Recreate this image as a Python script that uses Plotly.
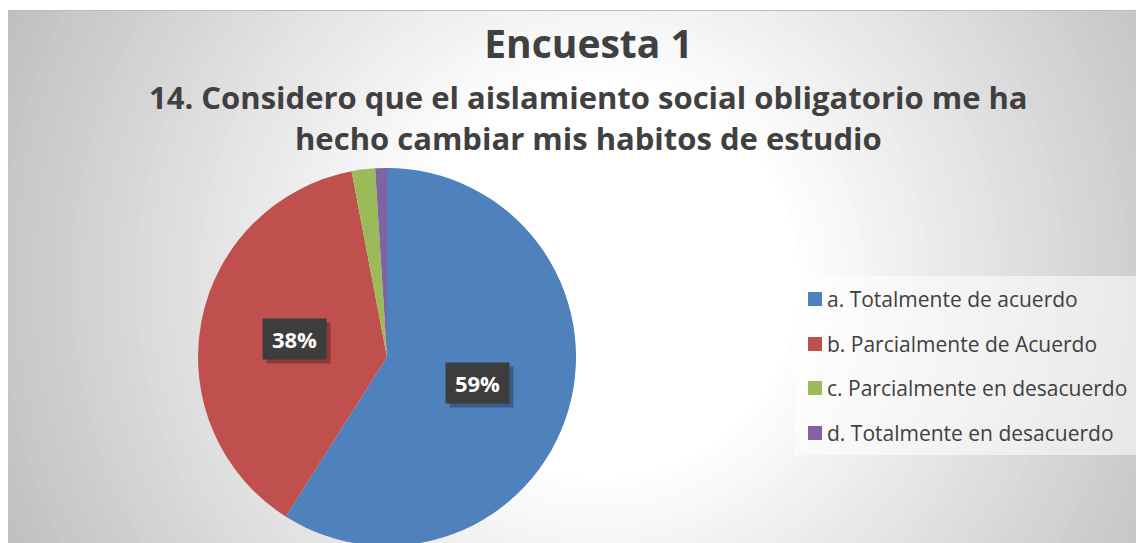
import math
import plotly.graph_objects as go

# ---- data ----
categories = [
    "a. Totalmente de acuerdo",
    "b. Parcialmente de Acuerdo",
    "c. Parcialmente en desacuerdo",
    "d. Totalmente en desacuerdo",
]
values = [59, 38, 2, 1]
colors = ["#4F81BD", "#C0504D", "#9BBB59", "#8064A2"]
title_text = "Encuesta 1"
subtitle_lines = [
    "14. Considero que el aislamiento social obligatorio me ha",
    "hecho cambiar mis habitos de estudio",
]

W, H = 1144, 543
FONT = "Open Sans"
TXT = "#404040"
OFF = 8  # page body margin offset


def px(x):
    return (x - OFF) / W


def py(y):
    return 1 - (y - OFF) / H


# pie geometry (window pixels)
CX, CY, R = 387, 357, 189

shapes = []
# base background
shapes.append(dict(type="rect", xref="paper", yref="paper", x0=0, x1=1, y0=0, y1=1,
                   fillcolor="rgb(192,192,192)", line=dict(width=0), layer="below"))
# radial gradient
gx, gy = 600, 280
r = 720
while r >= 190:
    c = 255 - 0.14 * (r - 200)
    c = int(max(190, min(255, c)))
    shapes.append(dict(type="circle", xref="paper", yref="paper",
                       x0=px(gx - r), x1=px(gx + r), y0=py(gy + r), y1=py(gy - r),
                       fillcolor=f"rgb({c},{c},{c})", line=dict(width=0), layer="below"))
    r -= 8
# top white strip + border line
shapes.append(dict(type="rect", xref="paper", yref="paper", x0=-0.01, x1=1.01, y0=py(10), y1=1.01,
                   fillcolor="white", line=dict(width=0), layer="below"))
shapes.append(dict(type="line", xref="paper", yref="paper", x0=0, x1=1, y0=py(10.5), y1=py(10.5),
                   line=dict(color="#bcbcbc", width=1), layer="below"))

# legend box
LX0, LX1, LY0, LY1 = 795, 1137, 276, 455
shapes.append(dict(type="rect", xref="paper", yref="paper", x0=px(LX0), x1=px(LX1), y0=py(LY1), y1=py(LY0),
                   fillcolor="rgba(255,255,255,0.55)", line=dict(width=0), layer="below"))

annotations = []
# legend items
row_y = [299, 344, 388, 433]
for cat, col, yy in zip(categories, colors, row_y):
    shapes.append(dict(type="rect", xref="paper", yref="paper", x0=px(808), x1=px(822),
                       y0=py(yy + 7), y1=py(yy - 7), fillcolor=col, line=dict(width=0), layer="above"))
    annotations.append(dict(text=cat, xref="paper", yref="paper", x=px(825), y=py(yy),
                            xanchor="left", yanchor="middle", showarrow=False,
                            font=dict(family=FONT, size=21, color=TXT)))

# data labels in boxes (computed from values)
total = sum(values)
cum = 0
for v in values:
    frac = v / total
    mid = (cum + v / 2) / total
    cum += v
    if frac < 0.05:
        continue
    th = 2 * math.pi * mid
    lx = CX + 0.5 * R * math.sin(th)
    ly = CY - 0.5 * R * math.cos(th)
    label = f"{round(frac * 100):.0f}%"
    annotations.append(dict(text=" ", xref="paper", yref="paper", x=px(lx + 4), y=py(ly + 4),
                            xanchor="center", yanchor="middle", showarrow=False,
                            width=59, height=36, borderpad=2, bgcolor="rgba(0,0,0,0.28)",
                            font=dict(family=FONT, size=22, color="white")))
    annotations.append(dict(text=f"<b>{label}</b>", xref="paper", yref="paper", x=px(lx), y=py(ly),
                            xanchor="center", yanchor="middle", showarrow=False,
                            width=59, height=36, borderpad=2, bgcolor="#3d3d3d",
                            font=dict(family=FONT, size=22, color="white")))

# subtitle (two lines)
for line, yy in zip(subtitle_lines, [97, 138]):
    annotations.append(dict(text=f"<b>{line}</b>", xref="paper", yref="paper",
                            x=px(588.5), y=py(yy), xanchor="center", yanchor="middle", showarrow=False,
                            font=dict(family=FONT, size=31, color=TXT)))

fig = go.Figure(go.Pie(
    labels=categories,
    values=values,
    marker=dict(colors=colors, line=dict(width=0)),
    sort=False,
    direction="clockwise",
    rotation=0,
    textinfo="none",
    hoverinfo="label+percent",
    showlegend=False,
    domain=dict(x=[px(CX - R), px(CX + R)], y=[py(CY + R), py(CY - R)]),
))

fig.update_layout(
    width=W, height=H,
    margin=dict(l=0, r=0, t=0, b=0),
    paper_bgcolor="white",
    plot_bgcolor="white",
    title=dict(text=f"<b>{title_text}</b>", x=px(588.5), y=py(44), xanchor="center", yanchor="middle",
               font=dict(family=FONT, size=39, color=TXT)),
    shapes=shapes,
    annotations=annotations,
    showlegend=False,
)

fig.write_html("out.html")
